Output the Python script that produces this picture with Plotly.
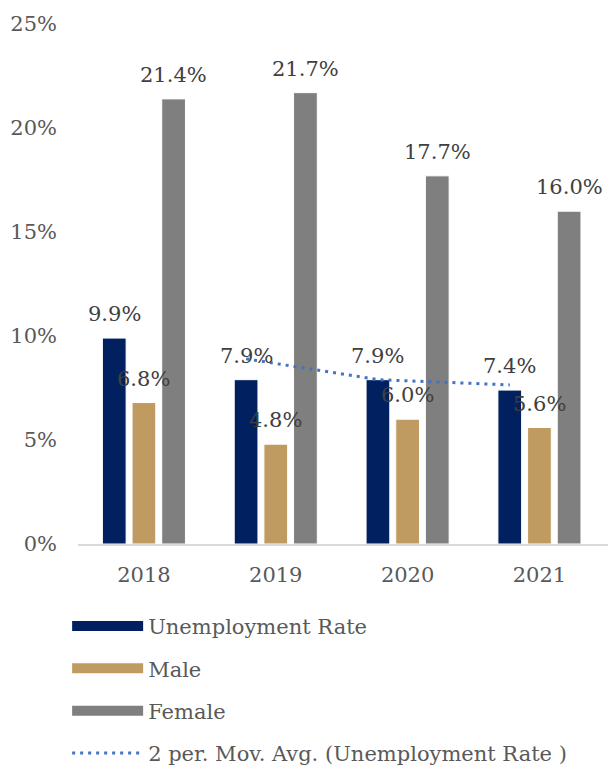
import plotly.graph_objects as go

years = ["2018", "2019", "2020", "2021"]
unemployment = [9.9, 7.9, 7.9, 7.4]
male = [6.8, 4.8, 6.0, 5.6]
female = [21.4, 21.7, 17.7, 16.0]
y_ticks = [0, 5, 10, 15, 20, 25]

series_names = ["Unemployment Rate", "Male", "Female"]
series_values = [unemployment, male, female]
series_colors = ["#002060", "#C09B61", "#7F7F7F"]
avg_name = "2 per. Mov. Avg. (Unemployment Rate )"
avg_color = "#4472C4"

x = list(range(len(years)))
# 2-period moving average of the unemployment rate
mov_avg = [(unemployment[i - 1] + unemployment[i]) / 2 for i in range(1, len(unemployment))]

bargap = 0.325
bargroupgap = 0.2
slot = (1 - bargap) / 3  # width of one bar slot in category units

FONT = "DejaVu Serif"
FS = 21
label_color = "#404040"
axis_color = "#595959"

fig = go.Figure()
for k, (name, vals, col) in enumerate(zip(series_names, series_values, series_colors)):
    fig.add_bar(x=x, y=vals, name=name, marker_color=col,
                marker_line=dict(color="#ffffff", width=1), showlegend=False)
    # data labels above each bar
    offset = (k - 1) * slot
    for xi, v in zip(x, vals):
        fig.add_annotation(x=xi + offset, y=v, text=f"{v:.1f}%", showarrow=False,
                           yanchor="middle", xanchor="center", yshift=24,
                           font=dict(family=FONT, size=FS, color=label_color))

fig.add_scatter(x=[xi - slot for xi in x[1:]], y=mov_avg, mode="lines",
                line=dict(color=avg_color, width=3, dash="3px,5px"), showlegend=False)

# legend entries
for name, col in zip(series_names, series_colors):
    fig.add_scatter(x=[None], y=[None], mode="lines", name=name,
                    line=dict(color=col, width=13), legendgroup=name)
fig.add_scatter(x=[None], y=[None], mode="lines", name=avg_name,
                line=dict(color=avg_color, width=3, dash="3px,5px"), legendgroup=avg_name)

fig.update_layout(
    width=608, height=766,
    margin=dict(l=78, r=0, t=24, b=222, autoexpand=False),
    paper_bgcolor="white", plot_bgcolor="white",
    barmode="group", bargap=bargap, bargroupgap=bargroupgap,
    font=dict(family=FONT, size=FS, color=axis_color),
    showlegend=True,
    legend=dict(orientation="v", x=-0.0205, xanchor="left", y=-0.119, yanchor="top",
                font=dict(family=FONT, size=FS, color=axis_color),
                tracegroupgap=12, itemwidth=71, traceorder="grouped"),
)
fig.update_xaxes(range=[-0.5, 3.52], tickvals=x, ticktext=years, showgrid=False,
                 showline=True, linecolor="#D9D9D9", linewidth=1.5, ticks="",
                 zeroline=False, ticklabelstandoff=11,
                 tickfont=dict(family=FONT, size=FS, color=axis_color))
fig.update_yaxes(range=[0, 25], tickvals=y_ticks, ticktext=[f"{t}%" for t in y_ticks],
                 showgrid=False, showline=False, zeroline=False, ticks="",
                 ticklabelstandoff=20,
                 tickfont=dict(family=FONT, size=FS, color=axis_color))

fig.write_html("out.html", config={"displayModeBar": False},
               post_script="document.body.style.margin='0';document.body.style.overflow='hidden';")
